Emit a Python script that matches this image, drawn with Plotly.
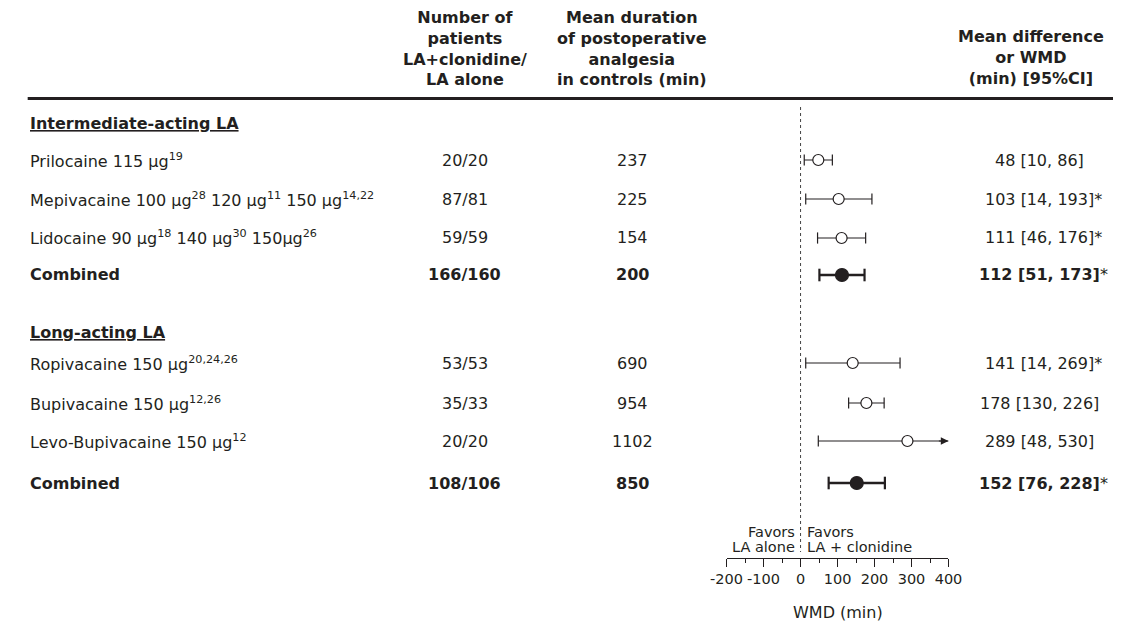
import plotly.graph_objects as go

W, H = 1127, 636

# ---------------- data ----------------
group_titles = ["Intermediate-acting LA", "Long-acting LA"]

int_labels = ["Prilocaine 115 µg<sup>19</sup>",
              "Mepivacaine 100 µg<sup>28</sup> 120 µg<sup>11</sup> 150 µg<sup>14,22</sup>",
              "Lidocaine 90 µg<sup>18</sup> 140 µg<sup>30</sup> 150µg<sup>26</sup>",
              "Combined"]
int_patients = ["20/20", "87/81", "59/59", "166/160"]
int_control = [237, 225, 154, 200]
int_wmd = [48, 103, 111, 112]
int_lo = [10, 14, 46, 51]
int_hi = [86, 193, 176, 173]
int_sig = [False, True, True, True]

long_labels = ["Ropivacaine 150 µg<sup>20,24,26</sup>",
               "Bupivacaine 150 µg<sup>12,26</sup>",
               "Levo-Bupivacaine 150 µg<sup>12</sup>",
               "Combined"]
long_patients = ["53/53", "35/33", "20/20", "108/106"]
long_control = [690, 954, 1102, 850]
long_wmd = [141, 178, 289, 152]
long_lo = [14, 130, 48, 76]
long_hi = [269, 226, 530, 228]
long_sig = [True, False, False, True]

x_ticks = [-200, -100, 0, 100, 200, 300, 400]

header_patients = "Number of<br>patients<br>LA+clonidine/<br>LA alone"
header_control = "Mean duration<br>of postoperative<br>analgesia<br>in controls (min)"
header_result = "Mean difference<br>or WMD<br>(min) [95%CI]"
axis_title = "WMD (min)"
favors_left = ["Favors", "LA alone"]
favors_right = ["Favors", "LA + clonidine"]

# ---------------- layout constants ----------------
TXT = "#231f20"
FONT = "DejaVu Sans"
FS = 16
XMIN, XMAX = -200, 400
PLOT_BOTTOM = 558          # pixel y of the x axis line
AX_L, AX_R = 730, 958      # pixel x extent of the forest axis
COL_LABEL = 12
COL_PAT = 461
COL_CTRL = 633
COL_RES_HEAD = 1043
COL_RES = 1051
TITLE_Y = [123, 332]
ROW_Y = [[160, 199, 238, 275], [363, 403, 441, 483]]

groups = [
    (int_labels, int_patients, int_control, int_wmd, int_lo, int_hi, int_sig),
    (long_labels, long_patients, long_control, long_wmd, long_lo, long_hi, long_sig),
]


def px(x):
    return x / W


def py(y):
    return 1 - y / PLOT_BOTTOM


fig = go.Figure()
annotations = []


def add_text(text, x, y, anchor="center", size=FS):
    annotations.append(dict(text=text, x=px(x), y=py(y), xref="paper", yref="paper",
                            xanchor=anchor, yanchor="middle", showarrow=False,
                            font=dict(family=FONT, size=size, color=TXT)))


# headers
add_text("<b>" + header_patients + "</b>", COL_PAT, 48)
add_text("<b>" + header_control + "</b>", COL_CTRL, 48)
add_text("<b>" + header_result + "</b>", COL_RES_HEAD, 58)

for g, (labels, pats, ctrl, wmd, lo, hi, sig) in enumerate(groups):
    add_text("<b><u>" + group_titles[g] + "</u></b>", COL_LABEL, TITLE_Y[g], anchor="left")
    n = len(labels)
    for i in range(n):
        y = ROW_Y[g][i]
        bold = (i == n - 1)
        b0, b1 = ("<b>", "</b>") if bold else ("", "")
        add_text(b0 + labels[i] + b1, COL_LABEL, y, anchor="left")
        add_text(b0 + pats[i] + b1, COL_PAT, y)
        add_text(b0 + str(ctrl[i]) + b1, COL_CTRL, y)
        res = f"{b0}{wmd[i]} [{lo[i]}, {hi[i]}]{b1}"
        if sig[i]:
            res = "<span style='color:rgba(0,0,0,0)'>*</span>" + res + "*"
        add_text(res, COL_RES, y)

        lw = 2.6 if bold else 1.1
        hi_draw = min(hi[i], XMAX)
        fig.add_trace(go.Scatter(x=[lo[i], hi_draw], y=[y, y], mode="lines",
                                 line=dict(color=TXT, width=lw), cliponaxis=False,
                                 hoverinfo="skip", showlegend=False))
        caps = [lo[i]] + ([hi[i]] if hi[i] <= XMAX else [])
        fig.add_trace(go.Scatter(x=caps, y=[y] * len(caps), mode="markers",
                                 marker=dict(symbol="line-ns", size=8 if not bold else 9,
                                             line=dict(color=TXT, width=1.2 if not bold else 2.2)),
                                 cliponaxis=False, hoverinfo="skip", showlegend=False))
        fig.add_trace(go.Scatter(x=[wmd[i]], y=[y], mode="markers",
                                 marker=dict(symbol="circle", size=13 if bold else 11,
                                             color=TXT if bold else "white",
                                             line=dict(color=TXT, width=1.2)),
                                 cliponaxis=False, hoverinfo="skip", showlegend=False))
        if hi[i] > XMAX:
            annotations.append(dict(x=XMAX, y=y, ax=XMAX - 30, ay=y, xref="x", yref="y",
                                    axref="x", ayref="y", showarrow=True, arrowhead=2,
                                    arrowsize=1.4, arrowwidth=1.1, arrowcolor=TXT,
                                    standoff=0, text=""))

# favors text
add_text(favors_left[0], 802, 532, anchor="right", size=14.5)
add_text(favors_left[1], 802, 547, anchor="right", size=14.5)
add_text(favors_right[0], 811, 532, anchor="left", size=14.5)
add_text(favors_right[1], 811, 547, anchor="left", size=14.5)

# axis title
add_text(axis_title, (AX_L + AX_R) / 2, 612)

shapes = [
    # thick header rule
    dict(type="line", xref="paper", yref="paper", x0=px(12), x1=1.0,
         y0=py(98.5), y1=py(98.5), line=dict(color=TXT, width=3)),
    # dotted line of no effect
    dict(type="line", xref="x", yref="y", x0=0, x1=0, y0=107, y1=552,
         line=dict(color="#444444", width=1, dash="dot")),
]

fig.update_layout(
    width=W, height=H,
    margin=dict(l=0, r=0, t=0, b=H - PLOT_BOTTOM, pad=0),
    paper_bgcolor="white", plot_bgcolor="white",
    showlegend=False,
    annotations=annotations,
    shapes=shapes,
    xaxis=dict(domain=[px(AX_L), px(AX_R)], range=[XMIN, XMAX],
               tickvals=x_ticks, ticktext=[str(t) for t in x_ticks],
               tickangle=0,
               ticks="outside", ticklen=8, tickwidth=1, tickcolor=TXT,
               minor=dict(dtick=50, tick0=0, ticks="outside", ticklen=4,
                          tickwidth=1, tickcolor=TXT, showgrid=False),
               showline=True, linecolor=TXT, linewidth=1,
               showgrid=False, zeroline=False,
               tickfont=dict(family=FONT, size=14.5, color=TXT),
               fixedrange=True),
    yaxis=dict(domain=[0, 1], range=[PLOT_BOTTOM, 0], visible=False,
               showgrid=False, zeroline=False, fixedrange=True),
)

fig.write_html("out.html", config={"displayModeBar": False},
               post_script="document.body.style.margin='0px';"
                           "document.body.style.overflow='hidden';")
